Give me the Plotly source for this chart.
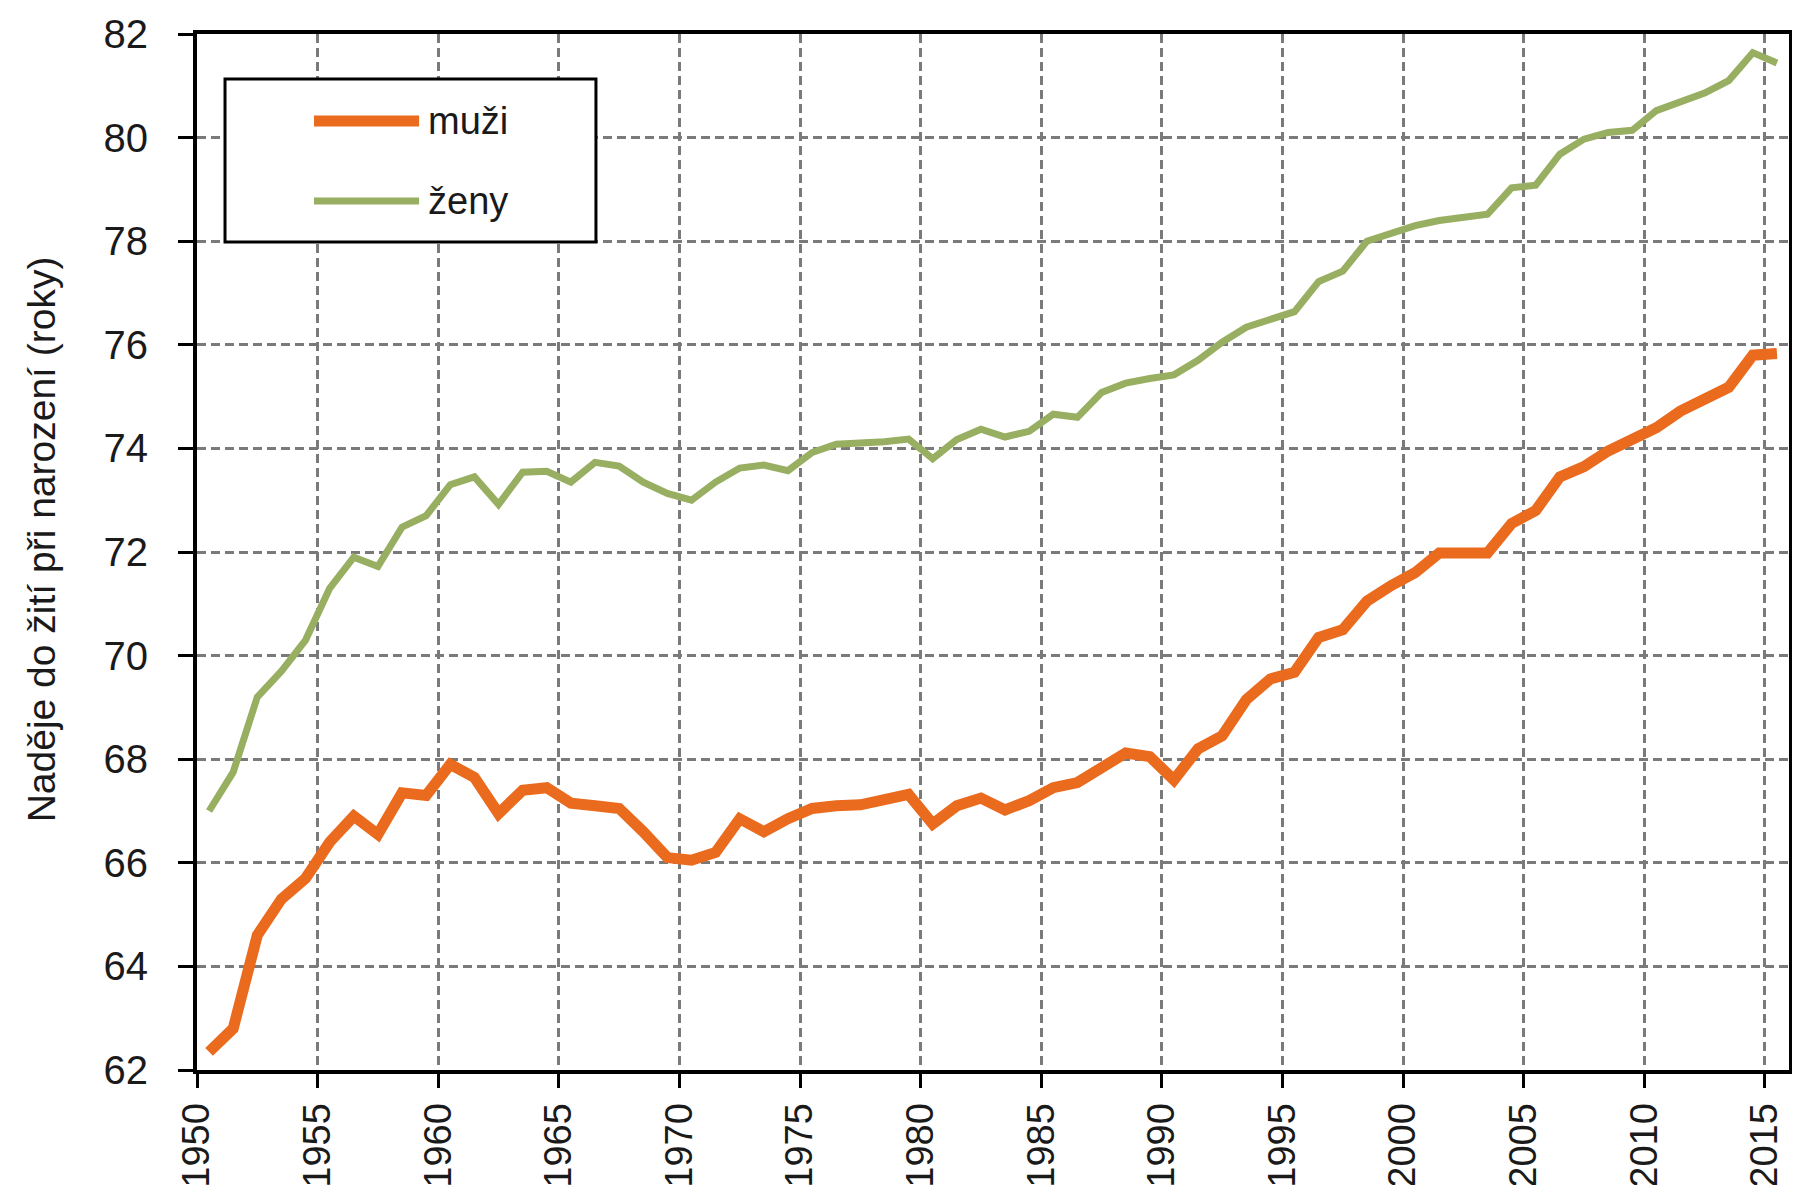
import plotly.graph_objects as go

years = list(range(1950, 2016))

muzi = [62.35, 62.8, 64.6, 65.3, 65.7, 66.4, 66.9, 66.55, 67.35, 67.3,
        67.9, 67.65, 66.95, 67.4, 67.45, 67.15, 67.1, 67.05, 66.6, 66.1,
        66.05, 66.2, 66.85, 66.6, 66.85, 67.05, 67.1, 67.12, 67.22, 67.32,
        66.75, 67.1, 67.25, 67.02, 67.2, 67.45, 67.55, 67.85, 68.12, 68.05,
        67.6, 68.2, 68.45, 69.15, 69.55, 69.68, 70.35, 70.5, 71.05, 71.35,
        71.6, 71.98, 72.0, 71.98, 72.55, 72.8, 73.45, 73.65, 73.95, 74.17,
        74.4, 74.72, 74.97, 75.18, 75.8, 75.83]

zeny = [67.0, 67.75, 69.2, 69.7, 70.3, 71.3, 71.9, 71.72, 72.48, 72.7,
        73.3, 73.45, 72.92, 73.54, 73.56, 73.35, 73.73, 73.66, 73.35, 73.13,
        73.0, 73.35, 73.62, 73.68, 73.57, 73.92, 74.08, 74.1, 74.13, 74.18,
        73.8, 74.17, 74.37, 74.22, 74.33, 74.66, 74.6, 75.08, 75.26, 75.35,
        75.42, 75.7, 76.05, 76.34, 76.48, 76.64, 77.22, 77.42, 78.0, 78.14,
        78.3, 78.4, 78.46, 78.52, 79.03, 79.08, 79.68, 79.97, 80.1, 80.14,
        80.52, 80.7, 80.86, 81.1, 81.64, 81.44]

series_names = ["muži", "ženy"]
series_colors = ["#EA6A1E", "#98AF62"]
series_widths = [11, 7]

x_ticks = list(range(1950, 2016, 5))
x_labels = [str(v) for v in x_ticks]
y_ticks = list(range(62, 83, 2))
y_title = "Naděje do žití při narození (roky)"

# category-style axis: each year's point sits in the middle of its interval
x_pos = [y + 0.5 for y in years]

FONT = "Liberation Sans, Arial, sans-serif"
TXT = "#1a1a1a"

fig = go.Figure()
for vals, name, col, w in zip([muzi, zeny], series_names, series_colors, series_widths):
    fig.add_trace(go.Scatter(x=x_pos, y=vals, mode="lines", name=name,
                             showlegend=False, line=dict(color=col, width=w)))

# legend drawn as a framed box (paper coordinates)
fig.add_shape(type="rect", xref="paper", yref="paper",
              x0=0.0176, x1=0.2506, y0=0.7993, y1=0.9566,
              line=dict(color="black", width=3), fillcolor="white", layer="above")
leg_y = [0.9161, 0.8388]
for ly, name, col, w in zip(leg_y, series_names, series_colors, series_widths):
    fig.add_shape(type="line", xref="paper", yref="paper",
                  x0=0.0735, x1=0.1395, y0=ly, y1=ly,
                  line=dict(color=col, width=w), layer="above")
    fig.add_annotation(x=0.1440, y=ly, xref="paper", yref="paper",
                       text=name, showarrow=False, xanchor="left", yanchor="middle",
                       font=dict(size=38, color=TXT, family=FONT))

# y-axis title
fig.add_annotation(x=-0.0975, y=0.512, xref="paper", yref="paper",
                   text=y_title, textangle=-90, showarrow=False,
                   xanchor="center", yanchor="middle",
                   font=dict(size=39, color=TXT, family=FONT))

grid = dict(showgrid=True, gridcolor="#7a7a7a", gridwidth=3, griddash="9px,5px")

fig.update_layout(
    width=1800, height=1185,
    paper_bgcolor="white", plot_bgcolor="white",
    margin=dict(l=189, r=19, t=26, b=123, autoexpand=False),
    font=dict(family=FONT, size=40, color=TXT),
    showlegend=False,
    xaxis=dict(range=[1950, 2016], tickmode="array", tickvals=x_ticks,
               ticktext=x_labels, tickangle=-90, ticks="outside", ticklen=14,
               tickwidth=3, tickcolor="black", showline=True, linecolor="black",
               linewidth=4, mirror=True, zeroline=False,
               tickfont=dict(size=38), ticklabelstandoff=0, **grid),
    yaxis=dict(range=[62, 82], tickmode="array", tickvals=y_ticks,
               ticks="outside", ticklen=15, tickwidth=3, tickcolor="black",
               showline=True, linecolor="black", linewidth=4, mirror=True,
               zeroline=False, ticklabelstandoff=22, **grid),
)

fig.write_html("out.html")
